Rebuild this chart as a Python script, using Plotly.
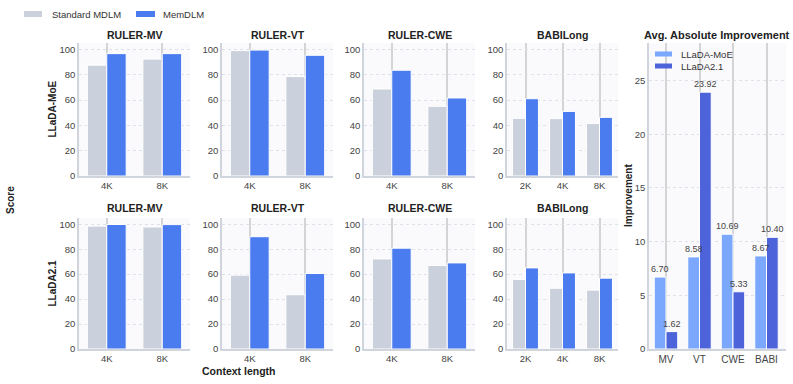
import plotly.graph_objects as go

# ---- data ----
panels = ["RULER-MV", "RULER-VT", "RULER-CWE", "BABILong"]
ctx_ruler = ["4K", "8K"]
ctx_babi = ["2K", "4K", "8K"]

moe_std = {"RULER-MV": [87.5, 92.3], "RULER-VT": [99.0, 78.5],
           "RULER-CWE": [68.7, 55.0], "BABILong": [45.5, 45.3, 41.5]}
moe_mem = {"RULER-MV": [96.6, 96.6], "RULER-VT": [99.4, 95.3],
           "RULER-CWE": [83.5, 61.6], "BABILong": [61.0, 51.0, 46.3]}
l21_std = {"RULER-MV": [98.5, 97.8], "RULER-VT": [59.2, 43.5],
           "RULER-CWE": [72.2, 67.0], "BABILong": [55.8, 48.7, 47.2]}
l21_mem = {"RULER-MV": [99.8, 99.7], "RULER-VT": [90.0, 60.5],
           "RULER-CWE": [80.8, 69.0], "BABILong": [65.0, 61.0, 56.8]}

imp_tasks = ["MV", "VT", "CWE", "BABI"]
imp_moe = [6.70, 8.58, 10.69, 8.67]
imp_l21 = [1.62, 23.92, 5.33, 10.40]

series_main = ["Standard MDLM", "MemDLM"]
series_imp = ["LLaDA-MoE", "LLaDA2.1"]

# ---- style ----
W, H = 793, 384
C_STD = "#cbd1dc"
C_MEM = "#4a7bef"
C_IMP1 = "#7ba7fd"
C_IMP2 = "#4c63d9"
FONT = "Liberation Sans, Arial, sans-serif"

def px_x(p):
    return p / W

def px_y(p):
    return 1 - p / H

xdoms = [(79, 190), (222, 333), (364, 475), (507, 618)]
ydoms = [(43, 176), (218, 349)]
title_y = [35, 208]

fig = go.Figure()
layout = {}
annotations = []
shapes = []

def ann(text, x, y, size=11, angle=0, xanchor="center", color="#222"):
    annotations.append(dict(text=text, x=px_x(x), y=px_y(y), xref="paper", yref="paper",
                            xanchor=xanchor, yanchor="middle", showarrow=False,
                            textangle=angle, font=dict(size=size, color=color, family=FONT)))

def swatch(x0, x1, yc, h, color):
    shapes.append(dict(type="rect", xref="paper", yref="paper",
                       x0=px_x(x0), x1=px_x(x1), y0=px_y(yc + h / 2), y1=px_y(yc - h / 2),
                       fillcolor=color, line=dict(width=0)))

idx = 0
for r, (std, mem, rowname) in enumerate([(moe_std, moe_mem, "LLaDA-MoE"),
                                          (l21_std, l21_mem, "LLaDA2.1")]):
    for c, name in enumerate(panels):
        idx += 1
        xa = "x" if idx == 1 else f"x{idx}"
        ya = "y" if idx == 1 else f"y{idx}"
        cats = ctx_babi if name == "BABILong" else ctx_ruler
        fig.add_trace(go.Bar(x=cats, y=std[name], name=series_main[0],
                             marker=dict(color=C_STD, line=dict(color="white", width=1)),
                             xaxis=xa, yaxis=ya, showlegend=False))
        fig.add_trace(go.Bar(x=cats, y=mem[name], name=series_main[1],
                             marker=dict(color=C_MEM, line=dict(color="white", width=1)),
                             xaxis=xa, yaxis=ya, showlegend=False))
        xd = xdoms[c]
        yd = ydoms[r]
        layout["xaxis" if idx == 1 else f"xaxis{idx}"] = dict(
            domain=[px_x(xd[0]), px_x(xd[1])], anchor=ya, type="category",
            showgrid=True, gridcolor="#d4d4d4", gridwidth=1.5,
            showline=True, linecolor="#d0d4dc", linewidth=1.5,
            ticks="", tickfont=dict(size=9.5, color="#444", family=FONT),
            automargin=False)
        layout["yaxis" if idx == 1 else f"yaxis{idx}"] = dict(
            domain=[px_y(yd[1]), px_y(yd[0])], anchor=xa, range=[0, 105],
            tickvals=[0, 20, 40, 60, 80, 100],
            showgrid=True, gridcolor="#dfe1ea", griddash="dot", gridwidth=1,
            showline=True, linecolor="#d0d4dc", linewidth=1.5, zeroline=False,
            ticks="", tickfont=dict(size=9.5, color="#444", family=FONT),
            automargin=False)
        ann(f"<b>{name}</b>", (xd[0] + xd[1]) / 2, title_y[r], size=10.5)
    ann(f"<b>{rowname}</b>", 52, (ydoms[r][0] + ydoms[r][1]) / 2, size=10, angle=-90)

# right panel
idx += 1
xa, ya = f"x{idx}", f"y{idx}"
fig.add_trace(go.Bar(x=imp_tasks, y=imp_moe, name=series_imp[0],
                     marker=dict(color=C_IMP1, line=dict(color="white", width=1)),
                     xaxis=xa, yaxis=ya, showlegend=False))
fig.add_trace(go.Bar(x=imp_tasks, y=imp_l21, name=series_imp[1],
                     marker=dict(color=C_IMP2, line=dict(color="white", width=1)),
                     xaxis=xa, yaxis=ya, showlegend=False))
for vals, shift in ((imp_moe, -6), (imp_l21, 6)):
    for t, v in zip(imp_tasks, vals):
        annotations.append(dict(text=f"{v:.2f}", x=t, y=v, xref=xa, yref=ya,
                                xshift=shift, yshift=1, xanchor="center", yanchor="bottom",
                                showarrow=False,
                                font=dict(size=9, color="#444", family=FONT)))
layout[f"xaxis{idx}"] = dict(
    domain=[px_x(649), px_x(786)], anchor=ya, type="category",
    showgrid=True, gridcolor="#d4d4d4", gridwidth=1.5,
    showline=True, linecolor="#d0d4dc", linewidth=1.5, ticks="",
    tickfont=dict(size=10, color="#444", family=FONT), automargin=False)
layout[f"yaxis{idx}"] = dict(
    domain=[px_y(349), px_y(43)], anchor=xa, range=[0, 28.5],
    tickvals=[0, 5, 10, 15, 20, 25],
    showgrid=True, gridcolor="#dfe1ea", griddash="dot", gridwidth=1,
    showline=True, linecolor="#d0d4dc", linewidth=1.5, zeroline=False, ticks="",
    tickfont=dict(size=9.5, color="#444", family=FONT), automargin=False)
ann("<b>Avg. Absolute Improvement</b>", 717, 35, size=11)
ann("<b>Improvement</b>", 628, 196, size=10, angle=-90)
ann("<b>Score</b>", 10, 200, size=10, angle=-90)
ann("<b>Context length</b>", 239, 371, size=10.5)

# legends (drawn as swatches + text)
swatch(24, 42, 14, 6, C_STD)
ann(series_main[0], 50, 14, size=9.5, xanchor="left", color="#333")
swatch(136, 155, 14, 6, C_MEM)
ann(series_main[1], 161, 14, size=9.5, xanchor="left", color="#333")
swatch(655, 672, 54, 5, C_IMP1)
ann(series_imp[0], 679, 54, size=9.5, xanchor="left", color="#333")
swatch(655, 672, 66, 5, C_IMP2)
ann(series_imp[1], 679, 66, size=9.5, xanchor="left", color="#333")

fig.update_layout(
    width=W, height=H, margin=dict(l=0, r=0, t=0, b=0),
    paper_bgcolor="white", plot_bgcolor="#fafafc",
    barmode="group", bargap=0.3, bargroupgap=0.0,
    font=dict(family=FONT, color="#333"),
    showlegend=False,
    annotations=annotations,
    shapes=shapes,
    **layout,
)

fig.write_html("out.html", post_script="document.body.style.margin='0';",
               config={"displayModeBar": False})
